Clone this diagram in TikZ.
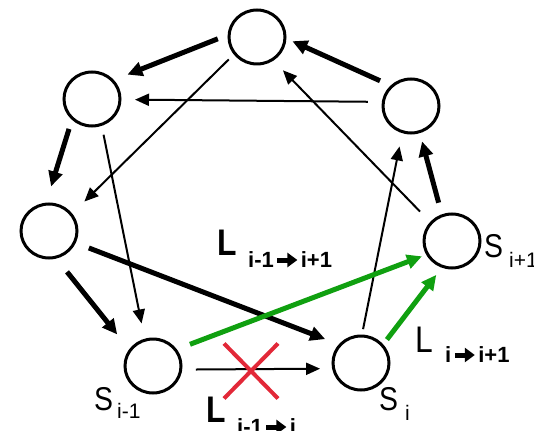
\documentclass[tikz,border=0pt]{standalone}
\usepackage{fontspec}
\setmainfont{Liberation Sans}
\usetikzlibrary{arrows.meta,shapes.geometric,shapes.misc}
\definecolor{arrgreen}{RGB}{16,160,16}
\definecolor{crossred}{RGB}{226,40,56}
\newcommand{\hz}[1]{\scalebox{0.86}[1]{#1}}
\newcommand{\arr}{\kern1pt\tikz[baseline=0pt]\draw[line width=5pt,-{Triangle[length=10pt,width=14pt]}] (0pt,7pt) -- (20pt,7pt);\kern1pt}

\begin{document}
\begin{tikzpicture}[x=1pt,y=-1pt,
  ring/.style={draw,ellipse,line width=3pt,minimum width=56pt,minimum height=54pt},
  heavyarr/.style={line width=5pt,-{Triangle[length=15pt,width=14pt]}},
  lightarr/.style={line width=2pt,-{Triangle[length=14pt,width=12pt]}},
  greenarr/.style={heavyarr,draw=arrgreen},
  lbl/.style={inner sep=0pt,anchor=base west},
  bigL/.style={lbl,font=\fontsize{37}{37}\selectfont},
  bigS/.style={lbl,font=\fontsize{33}{33}\selectfont},
  subtxt/.style={lbl,font=\fontsize{21}{21}\selectfont},
  subbold/.style={lbl,font=\fontsize{22}{22}\selectfont\bfseries}
]
\useasboundingbox (0,0) rectangle (534,430);

\node[ring] (ntop) at (257,37) {};
\node[ring] (nul) at (92,99) {};
\node[ring] (nur) at (411,106) {};
\node[ring] (nleft) at (49,231) {};
\node[ring] (sprev) at (153,366) {};
\node[ring] (scur) at (361,363) {};
\node[ring] (snext) at (452,241) {};

% the ring
\draw[heavyarr,shorten <=10.5pt,shorten >=14.5pt] (ntop.176) -- (nul.41);
\draw[heavyarr,shorten <=11.5pt,shorten >=6.5pt] (nur.135) -- (ntop.-3);
\draw[heavyarr,shorten <=9.5pt,shorten >=17pt] (nul.226) -- (nleft.96);
\draw[heavyarr,shorten <=17pt,shorten >=19pt] (nleft.-75) -- (sprev.145);
\draw[heavyarr,shorten <=12pt,shorten >=8.5pt] (snext.111) -- (nur.-72);
\draw[heavyarr,shorten <=14pt,shorten >=14.5pt] (nleft.-24) -- (scur.140);

% skip links
\draw[lightarr,shorten <=14pt,shorten >=13.5pt] (nur.172) -- (nul.-1);
\draw[lightarr,shorten <=7pt,shorten >=17pt] (ntop.217) -- (nleft.37);
\draw[lightarr,shorten <=9pt,shorten >=15.5pt] (nul.-70) -- (sprev.107);
\draw[lightarr,shorten <=14.5pt,shorten >=13.5pt] (snext.139) -- (ntop.-55);
\draw[lightarr,shorten <=5.5pt,shorten >=13.5pt] (scur.88) -- (nur.252);
\draw[lightarr,shorten <=13.5pt,shorten >=12pt] (sprev.-7) -- (scur.191);

\draw[greenarr,shorten <=14pt,shorten >=4.5pt] (sprev.35) -- (snext.208);
\draw[greenarr,shorten <=6pt,shorten >=9pt] (scur.40) -- (snext.249);

\node[draw=crossred,cross out,line width=4pt,minimum width=50pt,minimum height=51pt] (cross) at (251,371) {};

% labels
\node[bigL,font=\fontsize{37}{37}\selectfont\bfseries] (ltop) at (217,255) {\hz{L}};
\node[subbold] (ltopsub) at (248,267) {i-1\arr i+1};
\node[bigL] (lright) at (415,352) {\hz{L}};
\node[subbold] (lrightsub) at (445,362) {i\arr i+1};
\node[bigL,font=\fontsize{37}{37}\selectfont\bfseries] (lbot) at (206,422) {\hz{L}};
\node[subbold] (lbotsub) at (237,434) {i-1\arr i};

\node[bigS] (tprev) at (94,410) {\hz{S}};
\node[subtxt] (tprevsub) at (117,418) {i-1};
\node[bigS] (tcur) at (379,410) {\hz{S}};
\node[subtxt] (tcursub) at (405,420) {i};
\node[bigS] (tnext) at (484,257) {\hz{S}};
\node[subtxt] (tnextsub) at (509,267) {i+1};
\end{tikzpicture}
\end{document}
